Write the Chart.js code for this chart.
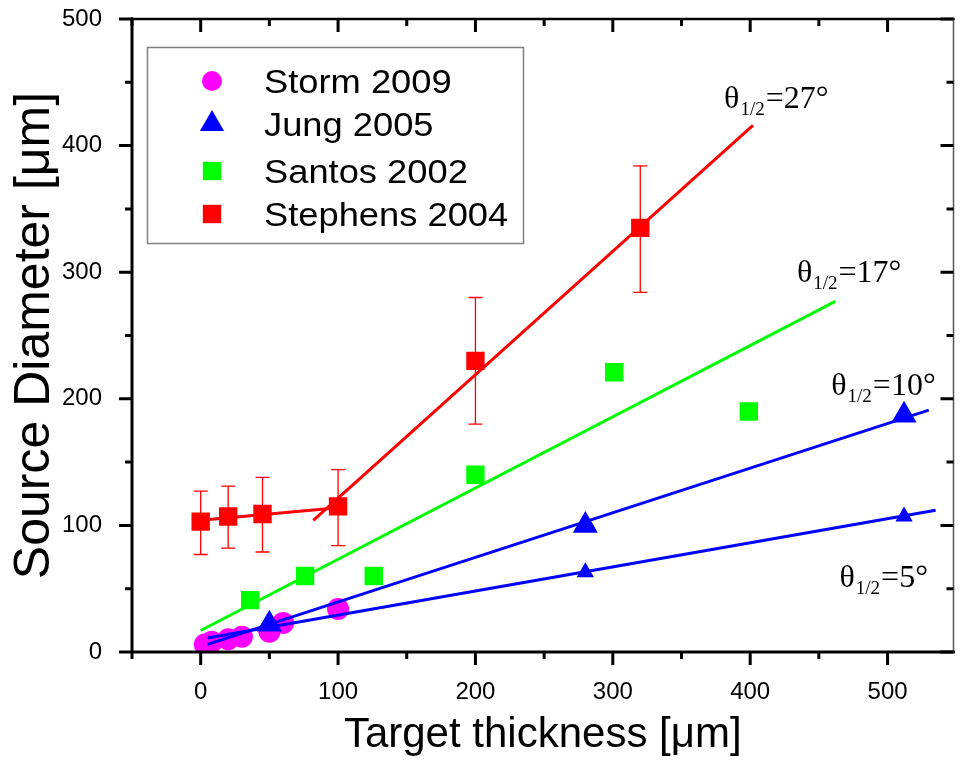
<!DOCTYPE html>
<html>
<head>
<meta charset="utf-8">
<script src="https://cdn.jsdelivr.net/npm/chart.js@4.4.1/dist/chart.umd.min.js"></script>
<style>
  html, body { margin: 0; padding: 0; background: #fff; overflow: hidden; }
  #wrap { width: 968px; height: 761px; }
  canvas { display: block; }
</style>
</head>
<body>
<div id="wrap"><canvas id="chart" width="968" height="761"></canvas></div>
<script>
// ------------------------------------------------------------
// DATOS
// ------------------------------------------------------------
const stormX = [3, 8, 20, 30, 50, 60, 100];
const stormY = [6, 8, 10, 12, 16, 23, 34];

const jungX = [50, 280, 512];
const jungY = [22, 100, 187];
const jungSmallX = [280, 512];
const jungSmallY = [63, 107];

const santosX = [36, 76, 126, 200, 301, 399];
const santosY = [41, 60, 60, 140, 221, 190];

const stephensX = [0, 20, 45, 100, 200, 320];
const stephensY = [103, 107, 109, 115, 230, 335];
const stephensLo = [77, 82, 79, 84, 180, 284];
const stephensHi = [127, 131, 138, 144, 280, 384];

// rectas de ajuste
const fit27X = [82, 402];
const fit27Y = [104, 416];
const fitLowX = [0, 100];
const fitLowY = [104, 114];
const fit17X = [0, 462];
const fit17Y = [17, 277];
const fit10X = [5, 530];
const fit10Y = [6, 191];
const fit5X = [5, 535];
const fit5Y = [11, 112];

// etiquetas de ángulo
const angleText = ["=27°", "=17°", "=10°", "=5°"];
const angleX = [381, 434, 459, 465];
const angleY = [430, 292, 203, 51];

// ticks
const xMajor = [0, 100, 200, 300, 400, 500];
const xMinor = [-50, 50, 150, 250, 350, 450];
const yMajor = [0, 100, 200, 300, 400, 500];
const yMinor = [50, 150, 250, 350, 450];

const legendNames = ["Storm 2009", "Jung 2005", "Santos 2002", "Stephens 2004"];
const legendColors = ["#ff00ff", "#0000ff", "#00ff00", "#ff0000"];
const legendStyles = ["circle", "triangle", "rect", "rect"];
const legendRadius = [10, 14, 13, 13];

const zip = (xs, ys) => xs.map((x, i) => ({ x, y: ys[i] }));

function scatterSet(label, xs, ys, color, style, r, order) {
  return {
    type: "scatter",
    label,
    data: zip(xs, ys),
    backgroundColor: color,
    borderColor: color,
    borderWidth: 0,
    pointStyle: style,
    pointRadius: r,
    pointHoverRadius: r,
    order,
  };
}

function lineSet(xs, ys, color) {
  return {
    type: "line",
    label: "",
    data: zip(xs, ys),
    borderColor: color,
    borderWidth: 3,
    pointRadius: 0,
    fill: false,
    tension: 0,
    order: 5,
  };
}

// ------------------------------------------------------------
// PLUGIN: marco, ticks, barras de error, leyenda, anotaciones
// ------------------------------------------------------------
const decor = {
  id: "decor",
  beforeDatasetsDraw(chart) {
    const ctx = chart.ctx;
    const xs = chart.scales.x, ys = chart.scales.y;
    ctx.save();
    ctx.strokeStyle = "#ff0000";
    ctx.lineWidth = 1.3;
    stephensX.forEach((v, i) => {
      const px = xs.getPixelForValue(v);
      const lo = ys.getPixelForValue(stephensLo[i]);
      const hi = ys.getPixelForValue(stephensHi[i]);
      ctx.beginPath();
      ctx.moveTo(px, lo); ctx.lineTo(px, hi);
      ctx.moveTo(px - 7, lo); ctx.lineTo(px + 7, lo);
      ctx.moveTo(px - 7, hi); ctx.lineTo(px + 7, hi);
      ctx.stroke();
    });
    ctx.restore();
  },
  afterDraw(chart) {
    const ctx = chart.ctx;
    const a = chart.chartArea;
    const xs = chart.scales.x, ys = chart.scales.y;
    ctx.save();

    // marco
    ctx.strokeStyle = "#000";
    ctx.lineCap = "square";
    ctx.lineWidth = 3;
    ctx.beginPath();
    ctx.moveTo(a.left, a.top); ctx.lineTo(a.left, a.bottom); ctx.lineTo(a.right, a.bottom);
    ctx.stroke();
    ctx.lineWidth = 2.5;
    ctx.beginPath();
    ctx.moveTo(a.left, a.top); ctx.lineTo(a.right, a.top);
    ctx.stroke();
    ctx.strokeStyle = "#555";
    ctx.lineWidth = 1.5;
    ctx.beginPath();
    ctx.moveTo(a.right, a.top); ctx.lineTo(a.right, a.bottom);
    ctx.stroke();

    // ticks
    ctx.strokeStyle = "#000";
    ctx.lineCap = "butt";
    ctx.lineWidth = 3;
    const xt = (vals, len) => vals.forEach((v) => {
      const p = xs.getPixelForValue(v);
      ctx.beginPath();
      ctx.moveTo(p, a.bottom); ctx.lineTo(p, a.bottom + len);
      ctx.moveTo(p, a.top); ctx.lineTo(p, a.top + len);
      ctx.stroke();
    });
    const yt = (vals, len) => vals.forEach((v) => {
      const p = ys.getPixelForValue(v);
      ctx.beginPath();
      ctx.moveTo(a.left, p); ctx.lineTo(a.left - len, p);
      ctx.moveTo(a.right, p); ctx.lineTo(a.right - len, p);
      ctx.stroke();
    });
    xt(xMajor, 13); xt(xMinor, 7);
    yt(yMajor, 13); yt(yMinor, 7);

    // anotaciones θ1/2
    ctx.fillStyle = "#000";
    ctx.textBaseline = "alphabetic";
    angleText.forEach((t, i) => {
      let px = xs.getPixelForValue(angleX[i]);
      const py = ys.getPixelForValue(angleY[i]);
      ctx.font = "32px 'Liberation Serif'";
      ctx.fillText("θ", px, py);
      px += ctx.measureText("θ").width + 1;
      ctx.font = "19px 'Liberation Serif'";
      ctx.fillText("1/2", px, py + 7);
      px += ctx.measureText("1/2").width + 1;
      ctx.font = "32px 'Liberation Serif'";
      ctx.fillText(t, px, py);
    });

    // leyenda
    ctx.strokeStyle = "#808080";
    ctx.lineWidth = 1.5;
    ctx.strokeRect(147.5, 47.5, 376, 196);
    const rows = [81, 124, 171, 214];
    legendNames.forEach((name, i) => {
      ctx.fillStyle = legendColors[i];
      Chart.helpers.drawPoint(ctx, {
        pointStyle: legendStyles[i], radius: legendRadius[i], rotation: 0, borderWidth: 0,
      }, 212, rows[i]);
      ctx.save();
      ctx.translate(264, rows[i] + 11.5);
      ctx.scale(1.1, 1);
      ctx.fillStyle = "#000";
      ctx.font = "33px 'Liberation Sans'";
      ctx.fillText(name, 0, 0);
      ctx.restore();
    });

    ctx.restore();
  },
};

const chart = new Chart(document.getElementById("chart"), {
  data: {
    datasets: [
      scatterSet("Storm 2009", stormX, stormY, "#ff00ff", "circle", 11, 10),
      lineSet(fit27X, fit27Y, "#ff0000"),
      lineSet(fitLowX, fitLowY, "#ff0000"),
      lineSet(fit17X, fit17Y, "#00ff00"),
      lineSet(fit10X, fit10Y, "#0000ff"),
      lineSet(fit5X, fit5Y, "#0000ff"),
      scatterSet("Jung 2005", jungX, jungY, "#0000ff", "triangle", 14.5, 1),
      scatterSet("Jung 2005 b", jungSmallX, jungSmallY, "#0000ff", "triangle", 10, 1),
      scatterSet("Santos 2002", santosX, santosY, "#00ff00", "rect", 13, 1),
      scatterSet("Stephens 2004", stephensX, stephensY, "#ff0000", "rect", 13, 1),
    ],
  },
  options: {
    responsive: false,
    animation: false,
    devicePixelRatio: 1,
    layout: { padding: { top: 19, right: 1, left: 0, bottom: 0 } },
    plugins: { legend: { display: false }, tooltip: { enabled: false } },
    scales: {
      x: {
        type: "linear",
        position: "bottom",
        min: -50,
        max: 548,
        grid: { display: false },
        border: { display: false },
        afterBuildTicks: (s) => { s.ticks = xMajor.map((v) => ({ value: v })); },
        afterFit: (s) => { s.height = 109; s.paddingLeft = 0; s.paddingRight = 0; },
        ticks: {
          padding: 18,
          color: "#000",
          font: { family: "'Liberation Sans'", size: 24 },
          maxRotation: 0,
        },
        title: {
          display: true,
          text: "Target thickness [μm]",
          color: "#000",
          font: { family: "'Liberation Sans'", size: 42 },
          padding: { top: 0, bottom: 0 },
        },
      },
      y: {
        type: "linear",
        min: 0,
        max: 500,
        grid: { display: false },
        border: { display: false },
        afterBuildTicks: (s) => { s.ticks = yMajor.map((v) => ({ value: v })); },
        afterFit: (s) => { s.width = 132; s.paddingTop = 0; s.paddingBottom = 0; },
        ticks: {
          padding: 22,
          color: "#000",
          font: { family: "'Liberation Sans'", size: 24 },
        },
        title: {
          display: true,
          text: "Source Diameter [μm]",
          color: "#000",
          font: { family: "'Liberation Sans'", size: 50 },
          padding: { top: 5, bottom: 0 },
        },
      },
    },
  },
  plugins: [decor],
});
</script>
</body>
</html>
